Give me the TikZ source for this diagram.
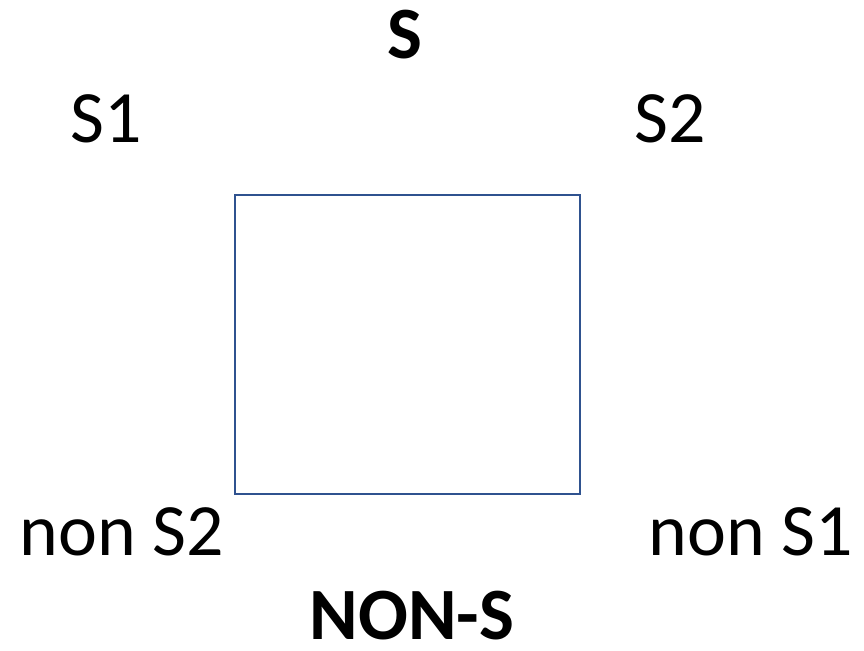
\documentclass[tikz,border=0pt]{standalone}
\usepackage{fontspec}
\setmainfont{Carlito}
\definecolor{frameblue}{RGB}{47,82,143}
\tikzset{
  term/.style={inner sep=0pt, anchor=base, font=\fontsize{42}{50}\selectfont},
  pole/.style={term, font=\fontsize{42}{50}\selectfont\bfseries},
  square/.style={draw=frameblue, line width=1.1pt, minimum width=6.9cm, minimum height=5.98cm, inner sep=0pt}
}
\begin{document}
\begin{tikzpicture}[x=0.02cm,y=-0.02cm]
             \useasboundingbox (0,0) rectangle (864,650);
             \node[square] (sq) at (407.5,344.5) {};

             \node[pole] (S) at (405,58) {S};
             \node[term] (S1) at (106,142) {S1};
             \node[term] (S2) at (670,142) {S2};
             \node[term] (nonS2) at (122,555) {non S2};
             \node[term] (nonS1) at (751,555) {non S1};
             \node[pole] (nonS) at (412,639) {NON-S};
         \end{tikzpicture}
\end{document}
